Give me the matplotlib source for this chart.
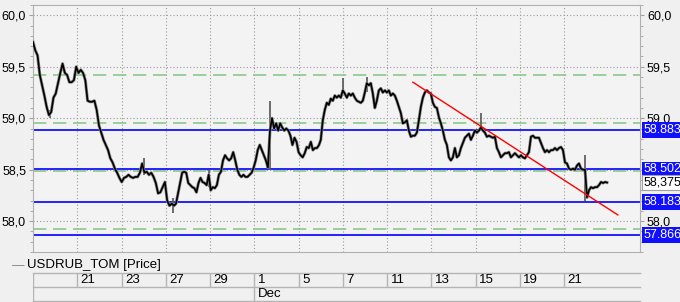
import numpy as np
import matplotlib.pyplot as plt
from matplotlib.ticker import MultipleLocator, FuncFormatter

plt.rcParams['font.family'] = ['Liberation Sans', 'DejaVu Sans']

# price closes in four pieces (Nov 19 .. Dec 22)
closes_1 = [59.74, 59.66, 59.61, 59.42, 59.32, 59.22, 59.11, 59.03, 59.06, 59.20,
            59.24, 59.34, 59.44, 59.53, 59.44, 59.42, 59.35, 59.35, 59.37, 59.50,
            59.44, 59.47, 59.44, 59.37, 59.17, 59.16, 59.16, 59.17, 59.08, 58.93,
            58.86, 58.79, 58.74, 58.69, 58.61, 58.57, 58.51, 58.47, 58.42, 58.38,
            58.42, 58.43, 58.45, 58.43, 58.42, 58.43, 58.43, 58.47, 58.56, 58.47,
            58.48, 58.45, 58.47, 58.43, 58.37, 58.27, 58.28, 58.33, 58.38, 58.20,
            58.15, 58.17, 58.15]
closes_2 = [58.17, 58.27, 58.37, 58.47, 58.48, 58.47, 58.37, 58.35, 58.33, 58.32,
            58.28, 58.37, 58.42, 58.38, 58.37, 58.35, 58.45, 58.30, 58.33, 58.32,
            58.35, 58.45, 58.48, 58.59, 58.64, 58.61, 58.59, 58.61, 58.67, 58.59,
            58.50, 58.45, 58.43, 58.45, 58.43, 58.43, 58.45, 58.47, 58.52, 58.59,
            58.69, 58.74, 58.69, 58.64, 58.59, 58.52, 58.88, 59.00, 58.90, 58.95,
            58.88, 58.95, 58.91, 58.88, 58.90, 58.88, 58.83, 58.74, 58.81, 58.77,
            58.67, 58.64, 58.62, 58.66, 58.72, 58.71, 58.77, 58.69, 58.71, 58.71,
            58.74]
closes_3 = [58.79, 58.98, 59.08, 59.15, 59.13, 59.19, 59.17, 59.22, 59.20, 59.22,
            59.20, 59.27, 59.24, 59.20, 59.24, 59.22, 59.24, 59.20, 59.17, 59.16,
            59.15, 59.17, 59.25, 59.34, 59.32, 59.34, 59.24, 59.10, 59.17, 59.27,
            59.29, 59.25, 59.27, 59.25, 59.27, 59.22, 59.24, 59.22, 59.17, 59.11,
            59.05, 58.95, 58.96, 58.98, 58.88, 58.82, 58.83, 58.83, 58.86, 58.98,
            59.11, 59.20, 59.25, 59.27, 59.25, 59.24, 59.15, 59.11, 59.10, 59.01,
            58.95, 58.88, 58.79, 58.74, 58.62, 58.59, 58.62, 58.71, 58.62, 58.64,
            58.71, 58.76, 58.81]
closes_4 = [58.83, 58.85, 58.79, 58.83, 58.88, 58.86, 58.88, 58.91, 58.88, 58.86,
            58.82, 58.83, 58.82, 58.81, 58.82, 58.71, 58.67, 58.62, 58.64, 58.66,
            58.66, 58.67, 58.62, 58.64, 58.66, 58.64, 58.62, 58.64, 58.62, 58.61,
            58.64, 58.67, 58.82, 58.83, 58.81, 58.81, 58.81, 58.76, 58.71, 58.67,
            58.69, 58.67, 58.69, 58.69, 58.71, 58.69, 58.71, 58.72, 58.69, 58.57,
            58.56, 58.51, 58.50, 58.51, 58.50, 58.54, 58.56, 58.51, 58.50, 58.50,
            58.23, 58.30, 58.33, 58.32, 58.33, 58.33, 58.35, 58.38, 58.37, 58.38,
            58.375]
# trading-day span covered by each piece
spans = [(0.0, 6.37), (6.46, 12.92), (13.0, 19.51), (19.6, 25.93)]

# single bars that stick out (day, low, high)
spike_day = [0.77, 5.01, 6.32, 7.95, 10.70, 14.0, 15.09, 20.23, 24.93]
spike_low = [59.00, 58.45, 58.08, 58.33, 58.50, 59.25, 59.25, 58.88, 58.20]
spike_high = [59.08, 58.61, 58.22, 58.50, 59.17, 59.39, 59.40, 59.05, 58.64]

blue_levels = [58.883, 58.502, 58.183, 57.866]
green_levels = [59.42, 58.955, 58.49, 57.92]
trend_days = [17.16, 26.42]
trend_vals = [59.35, 58.06]
last_price = 58.375

tick_days = [2, 4, 6, 8, 10, 12, 14, 16, 18, 20, 22, 24]
tick_labels = ['21', '23', '27', '29', '1', '5', '7', '11', '13', '15', '19', '21']
month_day = 10
month_label = 'Dec'

W, H = 680, 302
fig = plt.figure(figsize=(W / 100, H / 100), dpi=100, facecolor='#f0f0f0')
L, R, T, B = 33, 640, 5, 252
ax = fig.add_axes([L / W, 1 - B / H, (R - L) / W, (B - T) / H])
ax.set_facecolor('#f3f3f3')

days = np.concatenate([np.linspace(a, b, len(c)) for (a, b), c in
                       zip(spans, [closes_1, closes_2, closes_3, closes_4])])
closes = np.array(closes_1 + closes_2 + closes_3 + closes_4)

ax.vlines(spike_day, spike_low, spike_high, color='#555555', lw=1.2, zorder=3)
ax.plot(days, closes, color='#8a8a8a', lw=2.2, zorder=3)
ax.plot(days, closes, color='black', lw=1.2, zorder=4)

for v in green_levels:
    ax.axhline(v, color='#8cc88c', lw=1.2, dashes=(8, 4), zorder=2)
for v in blue_levels:
    ax.axhline(v, color='#0000ff', lw=1.2, zorder=2)
ax.plot(trend_days, trend_vals, color='#ff0000', lw=1.0, zorder=5)

ax.set_xlim(0, 27.42)
ax.set_ylim(57.70, 60.10)
ax.set_xticks(tick_days)
ax.yaxis.set_major_locator(MultipleLocator(0.5))
ax.yaxis.set_minor_locator(MultipleLocator(0.1))
ax.yaxis.set_major_formatter(FuncFormatter(lambda v, p: f'{v:.1f}'.replace('.', ',')))
ax.grid(True, color='#9a9a9a', lw=0.8, ls=(0, (1, 2)))
ax.tick_params(axis='x', length=0, labelbottom=False)
ax.tick_params(axis='y', which='both', left=True, right=True, labelleft=True,
               labelright=True, color='#a0a0a0', labelsize=9, pad=2)
ax.tick_params(axis='y', which='major', length=3)
ax.tick_params(axis='y', which='minor', length=2)
for s in ax.spines.values():
    s.set_color('#b0b0b0')

# boxed price labels on the right
for v in blue_levels:
    ax.text(1.006, v, f'{v:.3f}', transform=ax.get_yaxis_transform(), color='white',
            fontsize=9, va='center', ha='left', clip_on=False, zorder=10,
            bbox=dict(boxstyle='square,pad=0.15', fc='#1010ff', ec='none'))
ax.text(1.006, last_price, f'{last_price:.3f}'.replace('.', ','),
        transform=ax.get_yaxis_transform(), color='black', fontsize=9,
        va='center', ha='left', clip_on=False, zorder=10,
        bbox=dict(boxstyle='square,pad=0.15', fc='white', ec='#a0a0a0', lw=0.8))

# legend line
fig.text(12 / W, 1 - 266 / H, '\u2014', color='#808080', fontsize=9, va='center')
fig.text(27 / W, 1 - 265 / H, 'USDRUB_TOM [Price]', color='black', fontsize=9.5, va='center')

# date table under the chart
tb = fig.add_axes([L / W, 1 - 301 / H, (R - L) / W, 28 / H])
tb.set_xlim(ax.get_xlim())
tb.set_ylim(0, 2)
tb.axis('off')
lc = '#b4b4b4'
for yy in [0, 1, 2]:
    tb.plot([0, 27.42], [yy, yy], color=lc, lw=1.0, clip_on=False)
tb.vlines([0] + tick_days, 1, 2, color=lc, lw=1.0)
tb.vlines([0, month_day], 0, 1, color=lc, lw=1.0)
for d, lab in zip(tick_days, tick_labels):
    tb.text(d + 0.15, 1.5, lab, fontsize=9.5, va='center', ha='left')
tb.text(month_day + 0.15, 0.5, month_label, fontsize=9.5, va='center', ha='left')

fig.savefig('out.png', dpi=100, facecolor=fig.get_facecolor())
